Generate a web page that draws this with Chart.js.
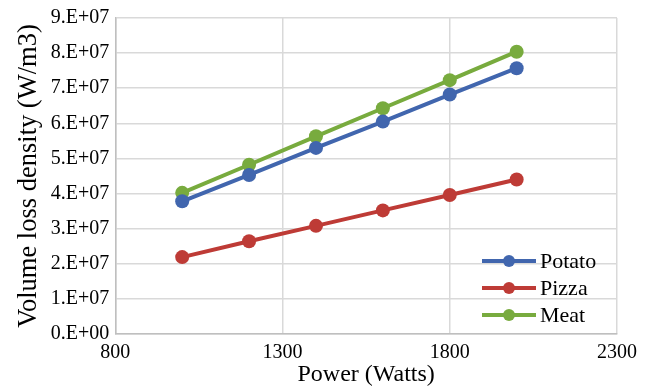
<!DOCTYPE html>
<html>
<head>
<meta charset="utf-8">
<script src="https://cdn.jsdelivr.net/npm/chart.js@4/dist/chart.umd.min.js"></script>
<style>
  html, body { margin: 0; padding: 0; background: #fff; }
  #wrap { width: 656px; height: 389px; }
</style>
</head>
<body>
<div id="wrap"><canvas id="lossChart"></canvas></div>
<script>
const powerWatts = [1000, 1200, 1400, 1600, 1800, 2000];
const potato = [3.78e7, 4.53e7, 5.30e7, 6.05e7, 6.82e7, 7.57e7];
const pizza = [2.19e7, 2.64e7, 3.08e7, 3.52e7, 3.96e7, 4.40e7];
const meat = [4.02e7, 4.82e7, 5.63e7, 6.43e7, 7.23e7, 8.04e7];
const seriesNames = ['Potato', 'Pizza', 'Meat'];
const seriesColors = ['#4166AE', '#BE3B36', '#78AB3E'];
const yTickLabels = ['0.E+00', '1.E+07', '2.E+07', '3.E+07', '4.E+07', '5.E+07', '6.E+07', '7.E+07', '8.E+07', '9.E+07'];

const FONT = "'Liberation Serif', 'Times New Roman', serif";

function toPoints(ys) {
  return ys.map((y, i) => ({ x: powerWatts[i], y: y }));
}

// legend drawn inside the plot, bottom right
const innerLegend = {
  id: 'innerLegend',
  afterDatasetsDraw(chart) {
    const { ctx, chartArea } = chart;
    const x0 = chartArea.right - 135;
    const yStart = chartArea.bottom - 73;
    ctx.save();
    chart.data.datasets.forEach((ds, i) => {
      const y = yStart + i * 27;
      ctx.strokeStyle = ds.borderColor;
      ctx.lineWidth = 4;
      ctx.beginPath();
      ctx.moveTo(x0, y);
      ctx.lineTo(x0 + 54, y);
      ctx.stroke();
      ctx.fillStyle = ds.borderColor;
      ctx.beginPath();
      ctx.arc(x0 + 27, y, 6, 0, Math.PI * 2);
      ctx.fill();
      ctx.fillStyle = '#000';
      ctx.font = '22px ' + FONT;
      ctx.textBaseline = 'middle';
      ctx.fillText(ds.label, x0 + 58, y + 1);
    });
    ctx.restore();
  }
};

const ctx = document.getElementById('lossChart').getContext('2d');
const lossChart = new Chart(ctx, {
  type: 'line',
  data: {
    datasets: [potato, pizza, meat].map((vals, i) => ({
      label: seriesNames[i],
      data: toPoints(vals),
      borderColor: seriesColors[i],
      backgroundColor: seriesColors[i],
      borderWidth: 4,
      pointRadius: 7,
      pointHoverRadius: 7,
      pointBorderWidth: 0,
      tension: 0
    }))
  },
  options: {
    responsive: true,
    maintainAspectRatio: false,
    animation: false,
    layout: { padding: { top: 4, right: 39, left: 13, bottom: 2 } },
    plugins: {
      legend: { display: false },
      tooltip: { enabled: false }
    },
    scales: {
      x: {
        type: 'linear',
        min: 800,
        max: 2300,
        ticks: {
          stepSize: 500,
          color: '#000',
          font: { family: FONT, size: 20, lineHeight: 1 },
          padding: 9,
          maxRotation: 0,
          callback: (v) => String(v)
        },
        grid: { color: '#d9d9d9', lineWidth: 1.5, drawTicks: false },
        border: { color: '#bfbfbf', width: 1.5 },
        title: { display: true, text: 'Power (Watts)', color: '#000', font: { family: FONT, size: 24, lineHeight: 1 }, padding: { top: -9, bottom: 0 } }
      },
      y: {
        min: 0,
        max: 9e7,
        ticks: {
          stepSize: 1e7,
          color: '#000',
          font: { family: FONT, size: 20 },
          padding: 6,
          callback: (v) => yTickLabels[Math.round(v / 1e7)]
        },
        grid: { color: '#d9d9d9', lineWidth: 1.5, drawTicks: false },
        border: { color: '#bfbfbf', width: 1.5 },
        title: { display: true, text: 'Volume loss density (W/m3)', color: '#000', font: { family: FONT, size: 26.5 }, padding: { top: 0, bottom: 0 } }
      }
    }
  },
  plugins: [innerLegend]
});
</script>
</body>
</html>
